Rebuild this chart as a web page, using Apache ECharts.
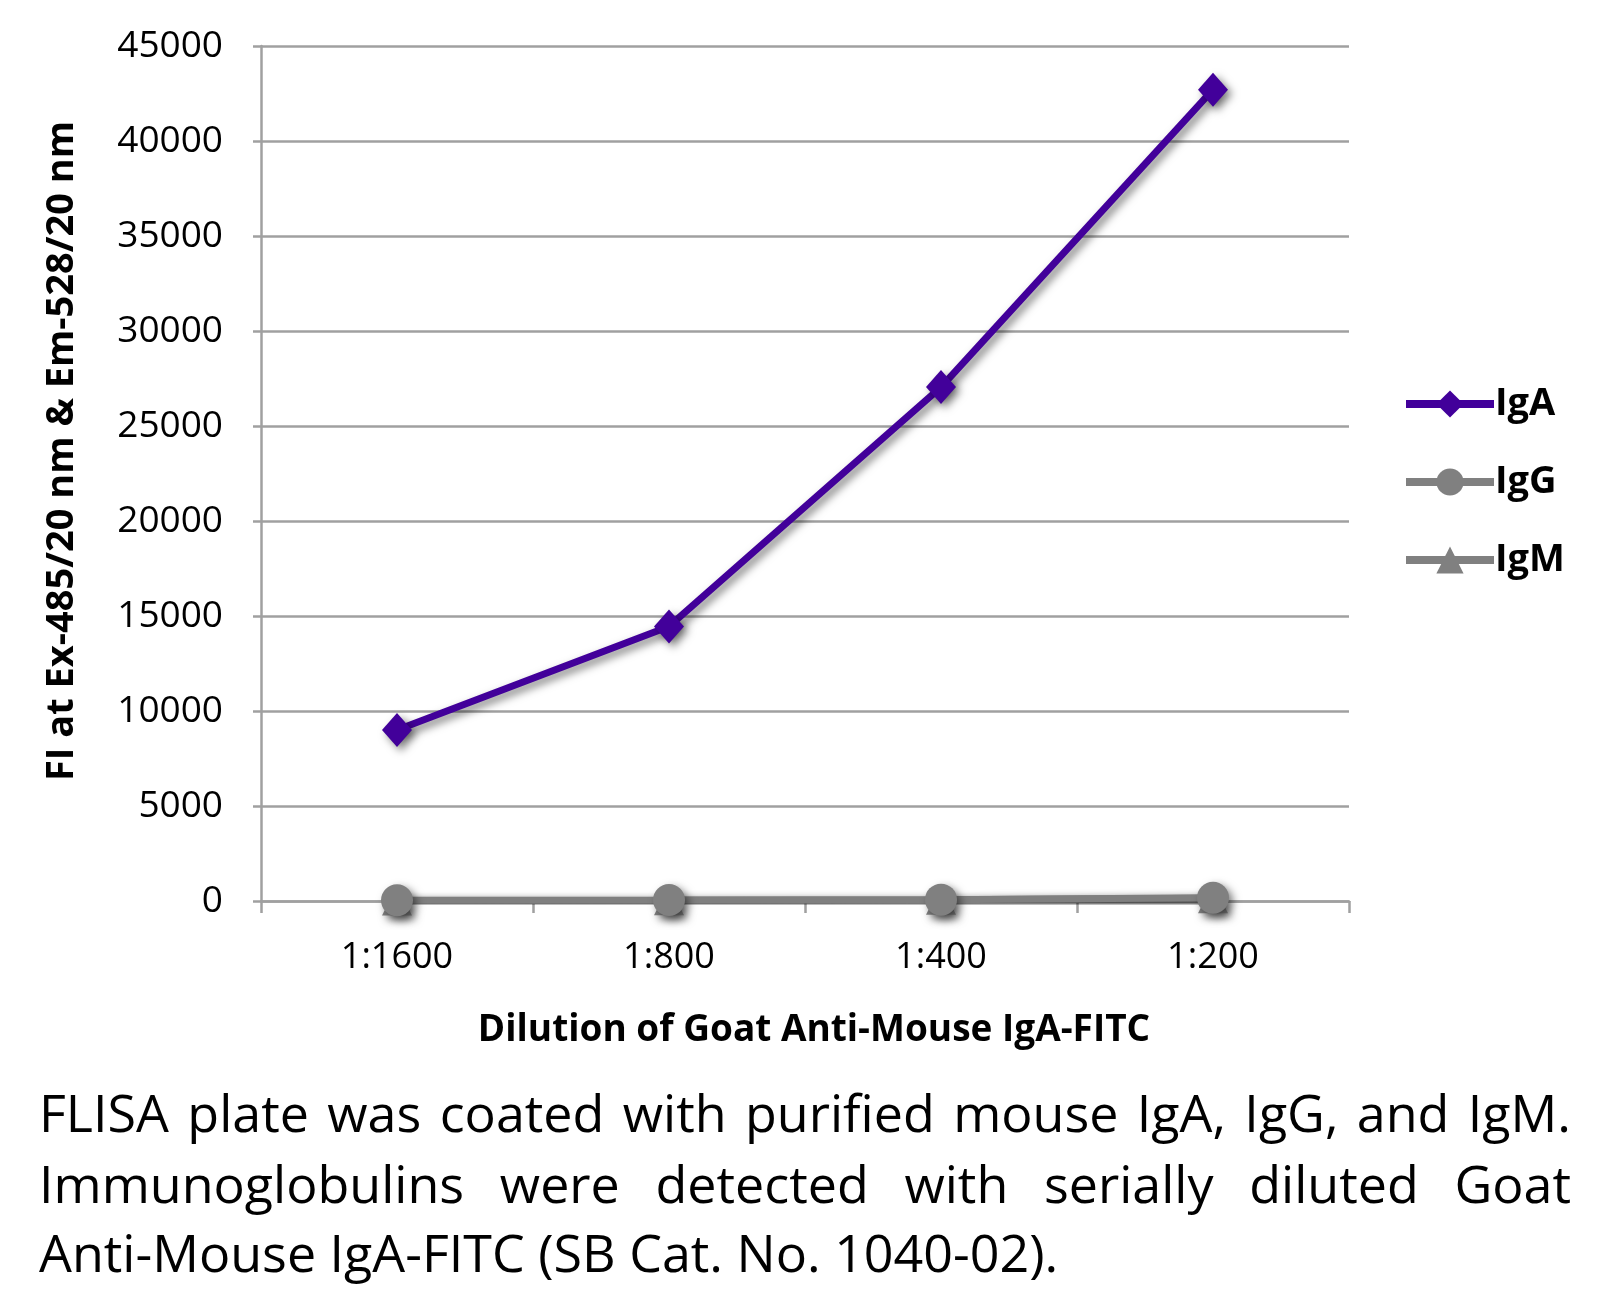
<!DOCTYPE html>
<html><head><meta charset="utf-8">
<script src="https://cdn.jsdelivr.net/npm/echarts@6/dist/echarts.min.js"></script>
<style>html,body{margin:0;padding:0;background:#fff}#c{width:1618px;height:1306px}</style>
</head><body><div id="c"></div>
<script>
const categories = ['1:1600', '1:800', '1:400', '1:200'];
const igA = [9000, 14450, 27050, 42700];
const igG = [40, 50, 70, 170];
const igM = [30, 40, 60, 140];
const yTicks = [0, 45000, 5000];
const captionLines = [
  'FLISA plate was coated with purified mouse IgA, IgG, and IgM.',
  'Immunoglobulins were detected with serially diluted Goat',
  'Anti-Mouse IgA-FITC (SB Cat. No. 1040-02).'
];

const FONT = '"Open Sans", "Noto Sans", sans-serif';
const capSize = 52;
const capLeft = 39, capRight = 1571;
const capY = [1117, 1188, 1257];
const cv = document.createElement('canvas').getContext('2d');
cv.font = capSize + 'px ' + FONT;
const graphics = [];
captionLines.forEach((line, i) => {
  const words = line.split(' ');
  if (i === captionLines.length - 1) {
    graphics.push({type:'text', x: capLeft, y: capY[i],
      style:{text: line, font: capSize + 'px ' + FONT, fill:'#000', textVerticalAlign:'middle'}});
    return;
  }
  const widths = words.map(w => cv.measureText(w).width);
  const total = widths.reduce((a,b)=>a+b,0);
  const gap = (capRight - capLeft - total) / (words.length - 1);
  let x = capLeft;
  words.forEach((w, j) => {
    graphics.push({type:'text', x: x, y: capY[i], style:{text: w, font: capSize + 'px ' + FONT, fill:'#000', textVerticalAlign:'middle'}});
    x += widths[j] + gap;
  });
});
graphics.push({type:'text', x: 62, y: 451, rotation: Math.PI/2,
  style:{text:'FI at Ex-485/20 nm & Em-528/20 nm', font:'bold 38px ' + FONT, fill:'#000', textAlign:'center', textVerticalAlign:'middle'}});

const shadow = {shadowColor:'rgba(0,0,0,0.5)', shadowBlur:8, shadowOffsetX:4, shadowOffsetY:4};
const chart = echarts.init(document.getElementById('c'));
chart.setOption({
  backgroundColor:'#fff',
  animation:false,
  grid:{left:261, right:269, top:46, bottom:405},
  legend:{orient:'vertical', left:1397, top:380, itemWidth:88, itemHeight:34, itemGap:40,
    lineStyle:{width:8}, itemStyle:{shadowBlur:0, shadowOffsetX:0, shadowOffsetY:0},
    textStyle:{fontFamily:FONT, fontWeight:'bold', fontSize:38, color:'#000', padding:[0,0,0,-4]},
    data:['IgA','IgG','IgM']},
  xAxis:{type:'category', data:categories, boundaryGap:true,
    name:'Dilution of Goat Anti-Mouse IgA-FITC', nameLocation:'middle', nameGap:111,
    nameTextStyle:{fontFamily:FONT, fontWeight:'bold', fontSize:37, color:'#000', padding:[0,0,0,18]},
    axisLine:{lineStyle:{color:'#A0A0A0', width:2.5}},
    axisTick:{show:true, alignWithLabel:false, length:12, lineStyle:{color:'#A0A0A0', width:2.5}},
    axisLabel:{fontFamily:FONT, fontSize:36, color:'#000', margin:39}},
  yAxis:{type:'value', min:yTicks[0], max:yTicks[1], interval:yTicks[2],
    axisLine:{show:true, lineStyle:{color:'#A0A0A0', width:2.5}},
    axisTick:{show:true, length:8, lineStyle:{color:'#A0A0A0', width:2.5}},
    splitLine:{lineStyle:{color:'#A0A0A0', width:2.5}},
    axisLabel:{fontFamily:FONT, fontSize:37, color:'#000', margin:38, formatter: v => String(v)}},
  series:[
    {name:'IgA', type:'line', data:igA, symbol:'diamond', symbolSize:[30,34], z:5,
      lineStyle:Object.assign({color:'#42009A', width:7}, shadow),
      itemStyle:Object.assign({color:'#42009A'}, shadow)},
    {name:'IgM', type:'line', data:igM, symbol:'triangle', symbolSize:30, z:3,
      lineStyle:Object.assign({color:'#808080', width:7}, shadow),
      itemStyle:Object.assign({color:'#808080'}, shadow)},
    {name:'IgG', type:'line', data:igG, symbol:'circle', symbolSize:32, z:4,
      lineStyle:Object.assign({color:'#808080', width:7}, shadow),
      itemStyle:Object.assign({color:'#808080'}, shadow)}
  ],
  graphic: graphics
});
</script></body></html>
